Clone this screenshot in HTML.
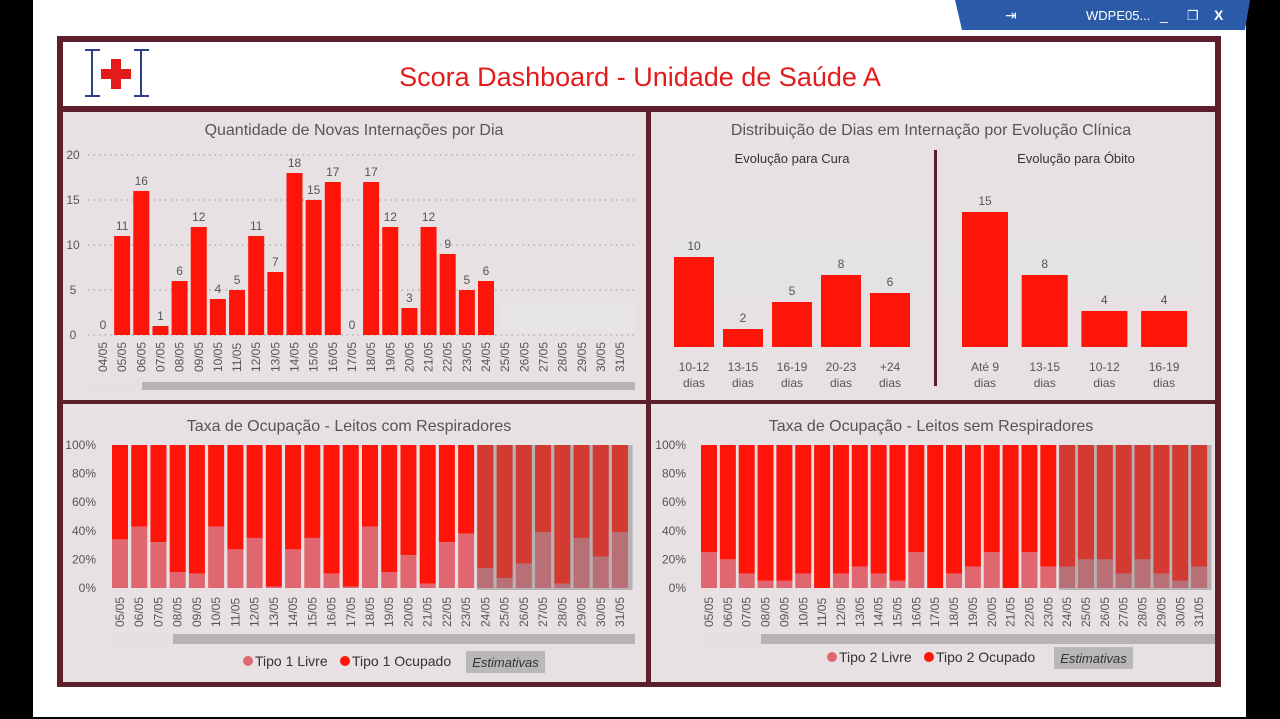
<!DOCTYPE html>
<html><head><meta charset="utf-8"><style>
html,body{margin:0;padding:0;width:1280px;height:719px;overflow:hidden;background:#fff}
svg{display:block;font-family:"Liberation Sans",sans-serif}
</style></head><body>
<svg id="s" width="1280" height="719" viewBox="0 0 1280 719" xmlns="http://www.w3.org/2000/svg">
<rect x="0" y="0" width="33" height="719" fill="#000"/>
<rect x="1246" y="0" width="34" height="719" fill="#000"/>
<rect x="0" y="717" width="1280" height="2" fill="#000"/>
<g>
<polygon points="955,0 1250,0 1245,30 962,30" fill="#2a5aa8"/>
<text x="1086" y="20" font-size="13" fill="#fff">WDPE05...</text>
<text x="1005" y="20" font-size="14" fill="#fff">⇥</text>
<text x="1160" y="20" font-size="14" fill="#fff">_</text>
<text x="1187" y="20" font-size="13" fill="#fff">❐</text>
<text x="1214" y="20" font-size="14" fill="#fff" font-weight="bold">X</text>
</g>
<rect x="57" y="36" width="1164" height="651" fill="#5e1f2c"/>
<rect x="63" y="42" width="1152" height="64" fill="#fff"/>
<g>
<rect x="85" y="49" width="64" height="48" fill="#fff"/>
<line x1="92" y1="50" x2="92" y2="96" stroke="#2b3f8a" stroke-width="2"/>
<line x1="141" y1="50" x2="141" y2="96" stroke="#2b3f8a" stroke-width="2"/>
<line x1="85" y1="50" x2="100" y2="50" stroke="#2b3f8a" stroke-width="2"/>
<line x1="134" y1="50" x2="149" y2="50" stroke="#2b3f8a" stroke-width="2"/>
<line x1="85" y1="96" x2="100" y2="96" stroke="#2b3f8a" stroke-width="2"/>
<line x1="134" y1="96" x2="149" y2="96" stroke="#2b3f8a" stroke-width="2"/>
<rect x="111" y="59" width="10" height="30" fill="#e31b1b"/>
<rect x="101" y="69" width="30" height="10" fill="#e31b1b"/>
</g>
<text x="640" y="86" font-size="27" fill="#e31b1b" text-anchor="middle">Scora Dashboard - Unidade de Saúde A</text>
<rect x="63" y="112" width="583" height="288" fill="#e8e1e3"/>
<rect x="651" y="112" width="564" height="288" fill="#e8e1e3"/>
<rect x="63" y="404" width="583" height="278" fill="#e8e1e3"/>
<rect x="651" y="404" width="564" height="278" fill="#e8e1e3"/>
<g id="c1"></g><g id="c2"></g><g id="c3"></g><g id="c4"></g>
</svg>
<script>
const NS='http://www.w3.org/2000/svg';
function el(p,t,a,txt){const e=document.createElementNS(NS,t);for(const k in a)e.setAttribute(k,a[k]);if(txt!==undefined)e.textContent=txt;p.appendChild(e);return e;}

// Chart 1 data
const c1Dates=['04/05','05/05','06/05','07/05','08/05','09/05','10/05','11/05','12/05','13/05','14/05','15/05','16/05','17/05','18/05','19/05','20/05','21/05','22/05','23/05','24/05','25/05','26/05','27/05','28/05','29/05','30/05','31/05'];
const c1Values=[0,11,16,1,6,12,4,5,11,7,18,15,17,0,17,12,3,12,9,5,6,null,null,null,null,null,null,null];
const c1Ticks=[0,5,10,15,20];
// Chart 2 data
const curaCats=['10-12|dias','13-15|dias','16-19|dias','20-23|dias','+24|dias'];
const curaValues=[10,2,5,8,6];
const obitoCats=['Até 9|dias','13-15|dias','10-12|dias','16-19|dias'];
const obitoValues=[15,8,4,4];
// Occupancy data
const occDates=['05/05','06/05','07/05','08/05','09/05','10/05','11/05','12/05','13/05','14/05','15/05','16/05','17/05','18/05','19/05','20/05','21/05','22/05','23/05','24/05','25/05','26/05','27/05','28/05','29/05','30/05','31/05'];
const livre1=[34,43,32,11,10,43,27,35,1,27,35,10,1,43,11,23,3,32,38,14,7,17,39,3,35,22,39];
const livre2=[25,20,10,5,5,10,0,10,15,10,5,25,0,10,15,25,0,25,15,15,20,20,10,20,10,5,15];
const pctTicks=[0,20,40,60,80,100];
const estStart=19;

const RED='#fe1408',LIV='#e0666f',TX='#555';

// Chart 1
(function(){
 const g=document.getElementById('c1');
 const y=v=>335-v*9, x=i=>103+i*19.15;
 el(g,'text',{x:354,y:135,'font-size':16,fill:TX,'text-anchor':'middle',},'Quantidade de Novas Internações por Dia');
 el(g,'rect',{x:500,y:298,width:136,height:36,fill:'#e6e4e6'});
 c1Ticks.forEach(t=>{
  const tk=el(g,'text',{x:73,y:y(t)+4,'font-size':12,fill:TX,'text-anchor':'middle'},t);
  
  el(g,'line',{x1:88,x2:636,y1:y(t),y2:y(t),stroke:'#999','stroke-dasharray':'1.5,4'});
 });
 c1Dates.forEach((d,i)=>{
  const lb=el(g,'text',{transform:`translate(${x(i)+4},372) rotate(-90)`,'font-size':12,fill:TX},d);
  
  const v=c1Values[i]; if(v===null) return;
  if(v>0){const b=el(g,'rect',{x:x(i)-8,y:y(v),width:16,height:v*9,fill:RED});
  }
  el(g,'text',{x:x(i),y:y(v)-6,'font-size':12,fill:TX,'text-anchor':'middle'},v);
 });
 el(g,'rect',{x:90,y:382,width:52,height:8,fill:'#e4e0e2'});
 const sb=el(g,'rect',{x:142,y:382,width:493,height:8,fill:'#b5b3b4'});
 
})();

// Chart 2
(function(){
 const g=document.getElementById('c2');
 const base=347;
 el(g,'text',{x:931,y:135,'font-size':16,fill:TX,'text-anchor':'middle',},'Distribuição de Dias em Internação por Evolução Clínica');
 el(g,'text',{x:792,y:163,'font-size':13,fill:'#333','text-anchor':'middle',},'Evolução para Cura');
 el(g,'text',{x:1076,y:163,'font-size':13,fill:'#333','text-anchor':'middle',},'Evolução para Óbito');
 el(g,'rect',{x:660,y:240,width:265,height:60,fill:'#e4e2e4'});
 el(g,'rect',{x:945,y:240,width:255,height:60,fill:'#e4e2e4'});
 el(g,'rect',{x:934,y:150,width:3,height:236,fill:'#5e1f2c',});
 function draw(cats,vals,x0,step,w){
  cats.forEach((c,i)=>{
   const cx=x0+i*step,v=vals[i];
   const b=el(g,'rect',{x:cx-w/2,y:base-v*9,width:w,height:v*9,fill:RED});
   
   el(g,'text',{x:cx,y:base-v*9-7,'font-size':12,fill:TX,'text-anchor':'middle'},v);
   const p=c.split('|');
   el(g,'text',{x:cx,y:371,'font-size':12,fill:TX,'text-anchor':'middle'},p[0]);
   el(g,'text',{x:cx,y:387,'font-size':12,fill:TX,'text-anchor':'middle'},p[1]);
  });
 }
 draw(curaCats,curaValues,694,49,40);
 draw(obitoCats,obitoValues,985,59.7,46);
})();

// Occupancy charts
function occ(id,title,livre,x0,step,titleX,legX,estX,estY,tipo,sbX,sbEnd){
 const g=document.getElementById(id);
 const y=v=>588-v*1.43, x=i=>x0+i*step;
 el(g,'text',{x:titleX,y:431,'font-size':16,fill:TX,'text-anchor':'middle',},title);
 pctTicks.forEach(t=>{
  const tk=el(g,'text',{x:id==='c3'?96:686,y:y(t)+4,'font-size':12,fill:TX,'text-anchor':'end'},t+'%');
  
 });
 el(g,'rect',{x:x(estStart)-step/2+1,y:445,width:(occDates.length-estStart)*step+2,height:145,fill:'#b8b0b2'});
 occDates.forEach((d,i)=>{
  const est=i>=estStart, v=livre[i];
  const o=el(g,'rect',{x:x(i)-8,y:y(100),width:16,height:(100-v)*1.43,fill:est?'#d23a32':RED});
  
  if(v>0){const l=el(g,'rect',{x:x(i)-8,y:y(v),width:16,height:v*1.43,fill:est?'#b87076':LIV});
  }
  const lb=el(g,'text',{transform:`translate(${x(i)+4},627) rotate(-90)`,'font-size':12,fill:TX},d);
  
 });
 el(g,'rect',{x:sbX-60,y:634,width:60,height:10,fill:'#e4e0e2'});
 const sb=el(g,'rect',{x:sbX,y:634,width:sbEnd-sbX,height:10,fill:'#b5b3b4'});
 
 const ly=estY+15;
 el(g,'circle',{cx:legX,cy:ly-5,r:5,fill:LIV});
 const t1=el(g,'text',{x:legX+7,y:ly,'font-size':14,fill:'#333'},'Tipo '+tipo+' Livre');
 
 el(g,'circle',{cx:legX+97,cy:ly-5,r:5,fill:RED});
 const t2=el(g,'text',{x:legX+104,y:ly,'font-size':14,fill:'#333'},'Tipo '+tipo+' Ocupado');
 
 el(g,'rect',{x:estX,y:estY,width:79,height:22,fill:'#b9b7b8'});
 const e=el(g,'text',{x:estX+39.5,y:ly+1,'font-size':13,fill:'#333','font-style':'italic','text-anchor':'middle'},'Estimativas');
 
}
occ('c3','Taxa de Ocupação - Leitos com Respiradores',livre1,120,19.23,349,248,466,651,1,173,635);
occ('c4','Taxa de Ocupação - Leitos sem Respiradores',livre2,709,18.85,931,832,1054,647,2,761,1215);
</script>
</body></html>
